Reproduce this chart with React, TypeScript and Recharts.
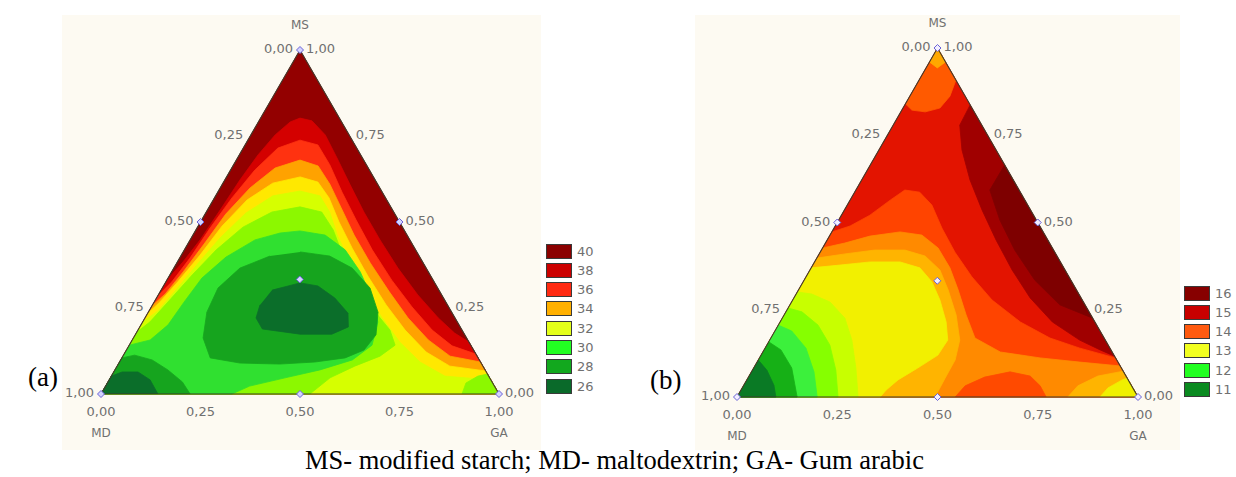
import React from "react";
import { ScatterChart, Scatter, XAxis, YAxis } from "recharts";

// every point is a mixture: [GA, MS]  (MD = 1 - GA - MS)
type Pt = [number, number];
type Layer = { fill: string; pts: Pt[] };

const TICKS = [0, 0.25, 0.5, 0.75, 1];
const DESIGN_POINTS: Pt[] = [[0, 0], [1, 0], [0, 1], [0.5, 0], [0, 0.5], [0.5, 0.5], [0.333, 0.333]];
const TRIANGLE: Pt[] = [[0, 0], [1, 0], [0, 1], [0, 0]];
const CORNER_R: Pt = [1, 0];
const CORNER_L: Pt = [0, 0];

// ---------- (a) ----------
const legendA = ["40", "38", "36", "34", "32", "30", "28", "26"];
const legendColorsA = ["#8b0000", "#cc0000", "#ff2a12", "#ffb000", "#e4ff1a", "#22ff22", "#12a81e", "#0a6a2a"];

const a40: Pt[] = [[0, 0.331], [0.014, 0.384], [0.025, 0.448], [0.032, 0.535], [0.038, 0.622], [0.047, 0.695], [0.061, 0.753], [0.08, 0.791], [0.099, 0.802], [0.133, 0.794], [0.187, 0.753], [0.25, 0.686], [0.322, 0.608], [0.396, 0.529], [0.477, 0.448], [0.563, 0.366], [0.652, 0.288], [0.737, 0.221], [0.8, 0.177], [0.849, 0.151]];
const a38: Pt[] = [[0, 0.285], [0.015, 0.326], [0.026, 0.395], [0.033, 0.483], [0.044, 0.57], [0.061, 0.651], [0.087, 0.715], [0.131, 0.738], [0.183, 0.724], [0.242, 0.666], [0.312, 0.587], [0.388, 0.506], [0.472, 0.419], [0.565, 0.331], [0.655, 0.253], [0.739, 0.186], [0.812, 0.14], [0.884, 0.116]];
const a36: Pt[] = [[0, 0.256], [0.016, 0.291], [0.029, 0.355], [0.041, 0.436], [0.052, 0.523], [0.075, 0.599], [0.109, 0.657], [0.16, 0.68], [0.214, 0.663], [0.27, 0.61], [0.333, 0.541], [0.405, 0.462], [0.486, 0.381], [0.576, 0.297], [0.661, 0.221], [0.744, 0.157], [0.822, 0.11], [0.907, 0.093]];
const a34: Pt[] = [[0, 0.233], [0.014, 0.267], [0.03, 0.326], [0.047, 0.404], [0.06, 0.488], [0.085, 0.564], [0.125, 0.613], [0.185, 0.631], [0.237, 0.616], [0.288, 0.57], [0.348, 0.5], [0.419, 0.424], [0.499, 0.343], [0.587, 0.259], [0.671, 0.186], [0.756, 0.122], [0.836, 0.081], [0.933, 0.067]];
const a33: Pt[] = [[0, 0.209], [0.022, 0.241], [0.037, 0.302], [0.053, 0.375], [0.072, 0.453], [0.101, 0.526], [0.144, 0.576], [0.205, 0.59], [0.262, 0.576], [0.31, 0.529], [0.365, 0.459], [0.434, 0.384], [0.512, 0.302], [0.596, 0.221], [0.675, 0.151], [0.755, 0.093], [0.838, 0.052], [0.959, 0.041]];
const a32: Pt[] = [[0, 0.18], [0.018, 0.209], [0.036, 0.273], [0.056, 0.346], [0.08, 0.419], [0.114, 0.485], [0.165, 0.529], [0.228, 0.544], [0.29, 0.529], [0.345, 0.477], [0.403, 0.407], [0.472, 0.331], [0.556, 0.25], [0.633, 0.186], [0.668, 0.142], [0.646, 0.11], [0.597, 0.081], [0.552, 0.047], [0.525, 0]];
const aGaLime: Pt[] = [[0.907, 0], [0.901, 0.032], [0.921, 0.052], [0.942, 0.058], [1, 0]];
const a31: Pt[] = [[0, 0.142], [0.045, 0.157], [0.068, 0.201], [0.075, 0.267], [0.085, 0.337], [0.115, 0.398], [0.163, 0.448], [0.216, 0.468], [0.263, 0.474], [0.332, 0.462], [0.404, 0.419], [0.474, 0.355], [0.541, 0.279], [0.591, 0.209], [0.61, 0.142], [0.582, 0.099], [0.515, 0.07], [0.439, 0.047], [0.362, 0.023], [0.329, 0]];
const a30: Pt[] = [[0.294, 0.413], [0.374, 0.401], [0.448, 0.366], [0.522, 0.308], [0.577, 0.238], [0.605, 0.172], [0.597, 0.128], [0.561, 0.105], [0.491, 0.093], [0.406, 0.087], [0.304, 0.09], [0.222, 0.105], [0.175, 0.163], [0.147, 0.238], [0.14, 0.308], [0.166, 0.366], [0.224, 0.401]];
const aMdGreen: Pt[] = [[0, 0], [0, 0.105], [0.028, 0.113], [0.079, 0.099], [0.133, 0.07], [0.187, 0.035], [0.224, 0]];
const a26: Pt[] = [[0.279, 0.302], [0.339, 0.323], [0.388, 0.314], [0.448, 0.279], [0.503, 0.235], [0.524, 0.195], [0.493, 0.174], [0.413, 0.174], [0.311, 0.189], [0.279, 0.221], [0.27, 0.259]];
const aMdDark: Pt[] = [[0, 0], [0, 0.052], [0.021, 0.064], [0.061, 0.064], [0.103, 0.041], [0.143, 0]];

// ---------- (b) ----------
const legendB = ["16", "15", "14", "13", "12", "11"];
const legendColorsB = ["#870000", "#c80000", "#ff5a10", "#f2ff20", "#22ff22", "#0a8a20"];

const bTip: Pt[] = [[0, 1], [0.092, 0.908], [0.1, 0.862], [0.092, 0.828], [0.061, 0.817], [0.025, 0.822], [0, 0.84]];
const bTipLight: Pt[] = [[0, 1], [0.04, 0.96], [0.028, 0.943], [0, 0.96]];
const bDark: Pt[] = [[0.163, 0.837], [0.166, 0.779], [0.207, 0.708], [0.27, 0.622], [0.343, 0.536], [0.421, 0.45], [0.504, 0.364], [0.589, 0.284], [0.679, 0.215], [0.773, 0.163], [0.838, 0.135], [0.883, 0.117]];
const bDarkCore: Pt[] = [[0.335, 0.665], [0.334, 0.593], [0.402, 0.507], [0.482, 0.421], [0.575, 0.335], [0.673, 0.264], [0.774, 0.226]];
const bC: Pt[] = [[0, 0.473], [0.037, 0.49], [0.071, 0.521], [0.1, 0.564], [0.122, 0.593], [0.162, 0.587], [0.211, 0.55], [0.269, 0.484], [0.336, 0.415], [0.414, 0.344], [0.497, 0.278], [0.599, 0.215], [0.696, 0.169], [0.785, 0.14], [0.888, 0.112]];
const bD: Pt[] = [[0, 0.427], [0.048, 0.441], [0.101, 0.461], [0.17, 0.473], [0.229, 0.464], [0.288, 0.427], [0.346, 0.37], [0.398, 0.307], [0.454, 0.235], [0.509, 0.169], [0.592, 0.129], [0.7, 0.112], [0.805, 0.1], [0.911, 0.089]];
const bTongue: Pt[] = [[0.544, 0], [0.553, 0.032], [0.589, 0.057], [0.645, 0.072], [0.701, 0.06], [0.74, 0.032], [0.771, 0]];
const bGaAmber: Pt[] = [[0.825, 0], [0.834, 0.032], [0.87, 0.06], [0.926, 0.074], [1, 0]];
const bGaYellow: Pt[] = [[0.905, 0], [0.912, 0.026], [0.936, 0.049], [0.946, 0.054], [1, 0]];
const bE: Pt[] = [[0, 0.398], [0.064, 0.41], [0.133, 0.421], [0.208, 0.421], [0.267, 0.404], [0.324, 0.364], [0.373, 0.307], [0.429, 0.235], [0.474, 0.163], [0.491, 0.106], [0.492, 0.054], [0.494, 0]];
const bF: Pt[] = [[0, 0.37], [0.068, 0.378], [0.139, 0.387], [0.213, 0.387], [0.271, 0.37], [0.321, 0.33], [0.367, 0.278], [0.414, 0.215], [0.444, 0.163], [0.441, 0.12], [0.409, 0.083], [0.377, 0.049], [0.362, 0.02], [0.357, 0]];
const bG: Pt[] = [[0, 0.301], [0.039, 0.295], [0.096, 0.272], [0.156, 0.226], [0.205, 0.163], [0.255, 0.083], [0.302, 0]];
const bH: Pt[] = [[0, 0.255], [0.04, 0.244], [0.099, 0.206], [0.157, 0.149], [0.208, 0.077], [0.252, 0]];
const bI: Pt[] = [[0, 0.206], [0.042, 0.189], [0.102, 0.14], [0.156, 0.072], [0.2, 0]];
const bJ: Pt[] = [[0, 0.158], [0.042, 0.135], [0.095, 0.083], [0.15, 0]];
const bK: Pt[] = [[0, 0.106], [0.036, 0.077], [0.075, 0.034], [0.097, 0]];

const layersA: Layer[] = [
  { fill: "#930000", pts: TRIANGLE },
  { fill: "#d40000", pts: [...a40, CORNER_R, CORNER_L] },
  { fill: "#ff3210", pts: [...a38, CORNER_R, CORNER_L] },
  { fill: "#ffa200", pts: [...a36, CORNER_R, CORNER_L] },
  { fill: "#ffe800", pts: [...a34, CORNER_R, CORNER_L] },
  { fill: "#d6ff00", pts: [...a33, CORNER_R, CORNER_L] },
  { fill: "#8cf800", pts: [...a32, CORNER_L] },
  { fill: "#8cf800", pts: aGaLime },
  { fill: "#30e030", pts: [...a31, CORNER_L] },
  { fill: "#16a41e", pts: a30 },
  { fill: "#16a41e", pts: aMdGreen },
  { fill: "#0b6e2a", pts: a26 },
  { fill: "#0b6e2a", pts: aMdDark },
];

const layersB: Layer[] = [
  { fill: "#e31400", pts: TRIANGLE },
  { fill: "#ff5a00", pts: bTip },
  { fill: "#ffa800", pts: bTipLight },
  { fill: "#a00000", pts: bDark },
  { fill: "#7e0000", pts: bDarkCore },
  { fill: "#ff4400", pts: [...bC, CORNER_R, CORNER_L] },
  { fill: "#ff8a00", pts: [...bD, CORNER_R, CORNER_L] },
  { fill: "#ff4a00", pts: bTongue },
  { fill: "#ffb400", pts: bGaAmber },
  { fill: "#f0f000", pts: bGaYellow },
  { fill: "#ffb400", pts: [...bE, CORNER_L] },
  { fill: "#f2f000", pts: [...bF, CORNER_L] },
  { fill: "#c8ff00", pts: [...bG, CORNER_L] },
  { fill: "#86ff00", pts: [...bH, CORNER_L] },
  { fill: "#3cf03c", pts: [...bI, CORNER_L] },
  { fill: "#16b016", pts: [...bJ, CORNER_L] },
  { fill: "#0a7a25", pts: [...bK, CORNER_L] },
];

const toXY = (p: Pt) => ({ x: p[0] + p[1] / 2, y: p[1] });
const fmt = (v: number) => v.toFixed(2).replace(".", ",");
const noDot = () => <g />;

const FONT = "'DejaVu Sans', Verdana, sans-serif";
const SERIF = "'Liberation Serif', 'Times New Roman', serif";

const makeLabel = (anchor: "start" | "middle" | "end", dx: number, dy: number, size = 13) =>
  (props: any) => (
    <text x={props.cx + dx} y={props.cy + dy} textAnchor={anchor} fontSize={size} fontFamily={FONT} fill="#707070">
      {props.payload.text}
    </text>
  );

const makeDiamond = (fill: string) => (props: any) => {
  const { cx, cy } = props;
  const r = 3.5;
  return <path d={`M${cx},${cy - r}L${cx + r},${cy}L${cx},${cy + r}L${cx - r},${cy}Z`} fill={fill} stroke="#6a62d6" strokeWidth={1} />;
};

type Tri = { left: number; right: number; top: number; bottom: number };

function TernaryPanel({ width, height, tri, layers, markerFill }: { width: number; height: number; tri: Tri; layers: Layer[]; markerFill: string }) {
  const sx = tri.right - tri.left;
  const sy = tri.bottom - tri.top;
  const xDomain = [-tri.left / sx, (width - tri.left) / sx];
  const yDomain = [-(height - tri.bottom) / sy, tri.bottom / sy];

  const leftLabels = TICKS.map((v) => ({ ...toXY([0, 1 - v]), text: fmt(v) }));
  const rightLabels = TICKS.map((v) => ({ ...toXY([1 - v, v]), text: fmt(v) }));
  const bottomLabels = TICKS.map((v) => ({ ...toXY([v, 0]), text: fmt(v) }));
  const topName = [{ ...toXY([0, 1]), text: "MS" }];
  const baseNames = [
    { ...toXY([0, 0]), text: "MD" },
    { ...toXY([1, 0]), text: "GA" },
  ];

  return (
    <ScatterChart width={width} height={height} margin={{ top: 0, right: 0, bottom: 0, left: 0 }}>
      <XAxis type="number" dataKey="x" domain={xDomain} allowDataOverflow hide />
      <YAxis type="number" dataKey="y" domain={yDomain} allowDataOverflow hide />
      {layers.map((l, i) => (
        <Scatter
          key={i}
          data={l.pts.map(toXY)}
          line={{ fill: l.fill, stroke: l.fill, strokeWidth: 0.8 }}
          lineJointType="linear"
          shape={noDot}
          isAnimationActive={false}
        />
      ))}
      <Scatter data={TRIANGLE.map(toXY)} line={{ fill: "none", stroke: "#3f3a2c", strokeWidth: 1.1 }} shape={noDot} isAnimationActive={false} />
      <Scatter data={DESIGN_POINTS.map(toXY)} shape={makeDiamond(markerFill)} isAnimationActive={false} />
      <Scatter data={leftLabels} shape={makeLabel("end", -7, 3)} isAnimationActive={false} />
      <Scatter data={rightLabels} shape={makeLabel("start", 6, 3)} isAnimationActive={false} />
      <Scatter data={bottomLabels} shape={makeLabel("middle", 0, 22)} isAnimationActive={false} />
      <Scatter data={topName} shape={makeLabel("middle", 0, -21, 12)} isAnimationActive={false} />
      <Scatter data={baseNames} shape={makeLabel("middle", 0, 43, 12)} isAnimationActive={false} />
    </ScatterChart>
  );
}

function ColorKey({ left, top, labels, colors }: { left: number; top: number; labels: string[]; colors: string[] }) {
  return (
    <div style={{ position: "absolute", left, top }}>
      {labels.map((t, i) => (
        <div key={t} style={{ position: "absolute", left: 0, top: i * 19.3, height: 15, whiteSpace: "nowrap" }}>
          <div style={{ position: "absolute", left: 0, top: 0, width: 26, height: 15, background: colors[i], border: "1px solid #3a3a3a", boxSizing: "border-box" }} />
          <span style={{ position: "absolute", left: 31, top: 0, lineHeight: "15px", fontSize: 13, fontFamily: FONT, color: "#707070" }}>{t}</span>
        </div>
      ))}
    </div>
  );
}

export default function App() {
  return (
    <div style={{ position: "absolute", left: 0, top: 0, width: 1236, height: 477, background: "#ffffff", overflow: "hidden" }}>
      <div style={{ position: "absolute", left: 62, top: 15, width: 479, height: 435, background: "#fdfaf2" }} />
      <div style={{ position: "absolute", left: 695, top: 15, width: 485, height: 435, background: "#fdfaf2" }} />

      <div style={{ position: "absolute", left: 0, top: 0 }}>
        <TernaryPanel width={620} height={477} tri={{ left: 101, right: 499, top: 50, bottom: 394 }} layers={layersA} markerFill="#d4d4ff" />
      </div>
      <div style={{ position: "absolute", left: 618, top: 0 }}>
        <TernaryPanel width={618} height={477} tri={{ left: 119, right: 520, top: 48, bottom: 397 }} layers={layersB} markerFill="#f2eeff" />
      </div>

      <ColorKey left={546} top={243.6} labels={legendA} colors={legendColorsA} />
      <ColorKey left={1184} top={285.5} labels={legendB} colors={legendColorsB} />

      <div style={{ position: "absolute", left: 28, top: 362, fontFamily: SERIF, fontSize: 27, color: "#000" }}>(a)</div>
      <div style={{ position: "absolute", left: 650, top: 365, fontFamily: SERIF, fontSize: 27, color: "#000" }}>(b)</div>

      <div style={{ position: "absolute", left: 305, top: 447, fontFamily: SERIF, fontSize: 26.5, lineHeight: 1, color: "#000", whiteSpace: "nowrap" }}>
        MS- modified starch; MD- maltodextrin; GA- Gum arabic
      </div>
    </div>
  );
}
